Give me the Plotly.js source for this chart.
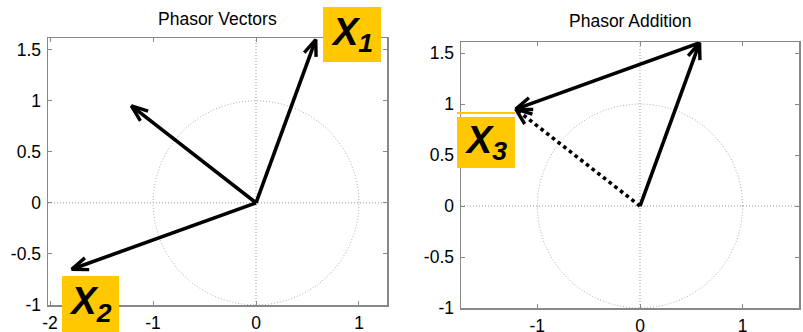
<!DOCTYPE html>
<html>
<head>
<meta charset="utf-8">
<script src="https://cdn.plot.ly/plotly-3.0.1.min.js"></script>
<style>html,body{margin:0;padding:0;background:#fff;}#chart{width:803px;height:332px;}</style>
</head>
<body>
<div id="chart"></div>
<script>
// ---- data (phasors, complex values as [re, im]) ----
const X1 = [0.58, 1.60];
const X2 = [-1.79, -0.65];
const X3 = [-1.21, 0.95];
const leftTitle = "Phasor Vectors";
const rightTitle = "Phasor Addition";
const xTickValsLeft = [-2, -1, 0, 1];
const xTickTextLeft = ["-2", "-1", "0", "1"];
const xTickValsRight = [-1, 0, 1];
const xTickTextRight = ["-1", "0", "1"];
const yTickVals = [-1, -0.5, 0, 0.5, 1, 1.5];
const yTickText = ["-1", "-0.5", "0", "0.5", "1", "1.5"];
const unitRadius = 1;

// ---- helpers ----
const W = 803, H = 332;
function vecTrace(from, to, xa, ya, dash) {
  return {x: [from[0], to[0]], y: [from[1], to[1]], xaxis: xa, yaxis: ya,
    mode: 'lines', line: {color: '#000', width: 3.6, dash: dash || 'solid'},
    hoverinfo: 'skip', showlegend: false};
}
function headTrace(from, to, xa, ya) {
  const dx = to[0] - from[0], dy = to[1] - from[1];
  const len = Math.hypot(dx, dy);
  const ux = dx / len, uy = dy / len;
  const L = 0.17, a = 21 * Math.PI / 180;
  const c = Math.cos(a), s = Math.sin(a);
  const b1 = [-(ux * c - uy * s) * L, -(uy * c + ux * s) * L];
  const b2 = [-(ux * c + uy * s) * L, -(uy * c - ux * s) * L];
  return {x: [to[0] + b1[0], to[0], to[0] + b2[0]], y: [to[1] + b1[1], to[1], to[1] + b2[1]],
    xaxis: xa, yaxis: ya, mode: 'lines', line: {color: '#000', width: 3.4},
    hoverinfo: 'skip', showlegend: false};
}
function circleTrace(xa, ya) {
  const xs = [], ys = [];
  for (let i = 0; i <= 360; i += 2) {
    xs.push(unitRadius * Math.cos(i * Math.PI / 180));
    ys.push(unitRadius * Math.sin(i * Math.PI / 180));
  }
  return {x: xs, y: ys, xaxis: xa, yaxis: ya, mode: 'lines',
    line: {color: '#b0b0b0', width: 1, dash: '1px,2px'}, hoverinfo: 'skip', showlegend: false};
}
const O = [0, 0];

const traces = [
  circleTrace('x', 'y'),
  vecTrace(O, X1, 'x', 'y'), headTrace(O, X1, 'x', 'y'),
  vecTrace(O, X2, 'x', 'y'), headTrace(O, X2, 'x', 'y'),
  vecTrace(O, X3, 'x', 'y'), headTrace(O, X3, 'x', 'y'),
  circleTrace('x2', 'y2'),
  vecTrace(O, X1, 'x2', 'y2'), headTrace(O, X1, 'x2', 'y2'),
  vecTrace(X1, X3, 'x2', 'y2'), headTrace(X1, X3, 'x2', 'y2'),
  vecTrace(O, X3, 'x2', 'y2', 'dot'), headTrace(O, X3, 'x2', 'y2')
];

const font = {family: 'Liberation Sans, Arial, sans-serif', size: 17.5, color: '#000'};
function axis(extra) {
  return Object.assign({
    showline: true, mirror: 'ticks', linecolor: '#888', linewidth: 1.5,
    ticks: 'inside', ticklen: 4, tickcolor: '#888', tickwidth: 1,
    showgrid: false, zeroline: false, fixedrange: true, tickfont: font
  }, extra);
}
const px = v => v / W;
const py = v => 1 - v / H;

function dotLine(xref, yref, vertical) {
  return vertical
    ? {type: 'line', xref: xref, yref: yref + ' domain', x0: 0, x1: 0, y0: 0, y1: 1,
       line: {color: '#999', width: 1, dash: '1px,2px'}, layer: 'below'}
    : {type: 'line', xref: xref + ' domain', yref: yref, x0: 0, x1: 1, y0: 0, y1: 0,
       line: {color: '#999', width: 1, dash: '1px,2px'}, layer: 'below'};
}

function label(cx, cy, w, h, sub) {
  return {xref: 'paper', yref: 'paper', x: px(cx), y: py(cy), xanchor: 'center', yanchor: 'middle',
    width: w, height: h, bgcolor: '#FFC800', borderpad: 0, borderwidth: 0, showarrow: false,
    text: '<b><i>X</i></b><sub><b><i>' + sub + '</i></b></sub>',
    font: {family: 'Liberation Sans, Arial, sans-serif', size: 38, color: '#000'}};
}

const layout = {
  width: W, height: H, margin: {l: 0, r: 0, t: 0, b: 0},
  paper_bgcolor: '#fff', plot_bgcolor: '#fff', showlegend: false,
  xaxis: axis({domain: [px(48), px(387)], range: [-2.02, 1.272], anchor: 'y',
    tickvals: xTickValsLeft, ticktext: xTickTextLeft, ticklabelstandoff: 1}),
  yaxis: axis({domain: [1 - 305 / H, 1 - 38 / H], range: [-1, 1.615], anchor: 'x',
    tickvals: yTickVals, ticktext: yTickText, ticklabelstandoff: 2}),
  xaxis2: axis({domain: [px(461), px(799)], range: [-1.743, 1.548], anchor: 'y2',
    tickvals: xTickValsRight, ticktext: xTickTextRight, ticklabelstandoff: 1}),
  yaxis2: axis({domain: [1 - 308 / H, 1 - 42 / H], range: [-1, 1.608], anchor: 'x2',
    tickvals: yTickVals, ticktext: yTickText, ticklabelstandoff: 2}),
  shapes: [
    dotLine('x', 'y', true), dotLine('x', 'y', false),
    dotLine('x2', 'y2', true), dotLine('x2', 'y2', false),
    {type: 'rect', xref: 'paper', yref: 'paper', x0: px(457), x1: px(515), y0: py(114), y1: py(112),
     fillcolor: '#FFC800', line: {width: 0}}
  ],
  annotations: [
    {xref: 'paper', yref: 'paper', x: px(217), y: py(19), xanchor: 'center', yanchor: 'middle',
     showarrow: false, text: leftTitle, font: font},
    {xref: 'paper', yref: 'paper', x: px(630), y: py(21), xanchor: 'center', yanchor: 'middle',
     showarrow: false, text: rightTitle, font: font},
    label(352, 34.5, 58, 55, '1'),
    label(90.5, 304, 57, 56, '2'),
    label(486, 142.5, 58, 51, '3')
  ]
};

Plotly.newPlot('chart', traces, layout, {displayModeBar: false, staticPlot: true});
</script>
</body>
</html>
